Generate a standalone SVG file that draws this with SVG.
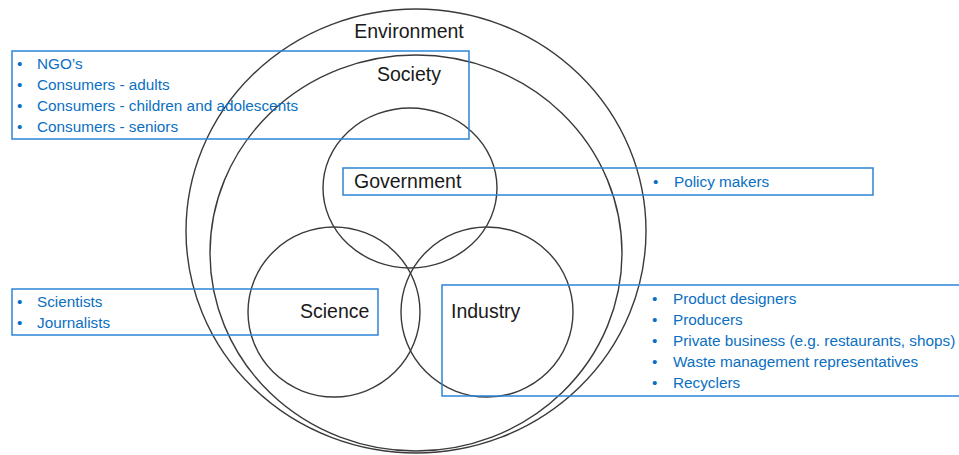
<svg xmlns="http://www.w3.org/2000/svg" width="959" height="455" viewBox="0 0 959 455">
  <style>
    .ring { fill: none; stroke: #3a3a3a; stroke-width: 1.4; }
    .box { fill: none; stroke: #2b85d6; stroke-width: 1.5; }
    .label { font-family: "Liberation Sans", Arial, sans-serif; font-size: 19.5px; fill: #1a1a1a; }
    .item { font-family: "Liberation Sans", Arial, sans-serif; font-size: 15.3px; fill: #0a6fc2; }
  </style>
  <rect width="959" height="455" fill="#ffffff"/>

  <!-- nested spheres -->
  <g id="environment">
    <ellipse class="ring" cx="416" cy="231" rx="230" ry="222"/>
    <text class="label" x="409" y="38" text-anchor="middle">Environment</text>
  </g>
  <g id="society">
    <ellipse class="ring" cx="416" cy="253" rx="206" ry="198"/>
    <text class="label" x="409" y="81" text-anchor="middle">Society</text>
  </g>
  <g id="government">
    <ellipse class="ring" cx="410" cy="188" rx="87" ry="80"/>
  </g>
  <g id="science">
    <ellipse class="ring" cx="334" cy="312" rx="86" ry="85"/>
  </g>
  <g id="industry">
    <ellipse class="ring" cx="487" cy="312" rx="86" ry="85"/>
  </g>

  <!-- stakeholder lists -->
  <g id="society-stakeholders">
    <rect class="box" x="12" y="51" width="457" height="88"/>
    <g class="item">
      <text x="17" y="69">•</text><text x="37" y="69">NGO’s</text>
      <text x="17" y="90">•</text><text x="37" y="90">Consumers - adults</text>
      <text x="17" y="111">•</text><text x="37" y="111">Consumers - children and adolescents</text>
      <text x="17" y="132">•</text><text x="37" y="132">Consumers - seniors</text>
    </g>
  </g>

  <g id="government-stakeholders">
    <rect class="box" x="343" y="168" width="530" height="27"/>
    <text class="label" x="354" y="188">Government</text>
    <g class="item">
      <text x="653" y="187">•</text><text x="674" y="187">Policy makers</text>
    </g>
  </g>

  <g id="science-stakeholders">
    <rect class="box" x="12" y="289" width="366" height="46"/>
    <text class="label" x="300" y="318">Science</text>
    <g class="item">
      <text x="17" y="307">•</text><text x="37" y="307">Scientists</text>
      <text x="17" y="328">•</text><text x="37" y="328">Journalists</text>
    </g>
  </g>

  <g id="industry-stakeholders">
    <rect class="box" x="442" y="285" width="520" height="111"/>
    <text class="label" x="451" y="318">Industry</text>
    <g class="item">
      <text x="652" y="304">•</text><text x="673" y="304">Product designers</text>
      <text x="652" y="325">•</text><text x="673" y="325">Producers</text>
      <text x="652" y="346">•</text><text x="673" y="346">Private business (e.g. restaurants, shops)</text>
      <text x="652" y="367">•</text><text x="673" y="367">Waste management representatives</text>
      <text x="652" y="388">•</text><text x="673" y="388">Recyclers</text>
    </g>
  </g>
</svg>
